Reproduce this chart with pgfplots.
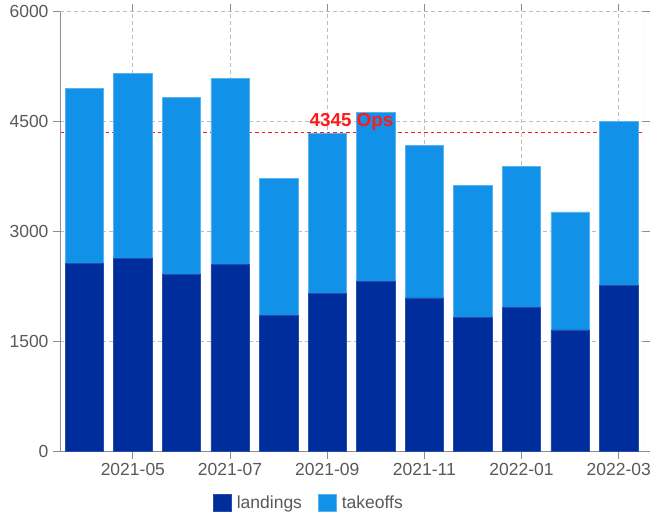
\documentclass[border=0pt]{standalone}
\usepackage{pgfplots}
\pgfplotsset{compat=1.18}
\usepackage{fontspec}
\setmainfont{Liberation Sans}

\definecolor{landc}{HTML}{002D9C}
\definecolor{takec}{HTML}{1192E8}
\definecolor{gridc}{HTML}{BDBDBD}
\definecolor{axisc}{HTML}{8D8D8D}
\definecolor{labc}{HTML}{595959}
\definecolor{refc}{HTML}{FF1A1A}

% monthly operations, Apr 2021 .. Mar 2022 (index 0..11)
\pgfplotstableread{
idx landings takeoffs
0   2569 2372
1   2633 2520
2   2416 2410
3   2547 2540
4   1854 1866
5   2157 2176
6   2320 2300
7   2094 2076
8   1831 1795
9   1963 1921
10  1659 1605
11  2262 2234
}\ops

\begin{document}
\begin{tikzpicture}
\useasboundingbox (0,0) rectangle (652bp,518bp);
\begin{axis}[
  at={(60bp,66.3bp)}, anchor=south west,
  scale only axis,
  width=583bp, height=440.7bp,
  ybar stacked,
  bar width=0.79,
  xmin=-0.5, xmax=11.5,
  ymin=0, ymax=6000,
  xtick={1,3,5,7,9,11},
  xticklabels={2021-05,2021-07,2021-09,2021-11,2022-01,2022-03},
  ytick={0,1500,3000,4500,6000},
  /pgf/number format/assume math mode=true,
  scaled y ticks=false,
  yticklabel style={/pgf/number format/fixed,/pgf/number format/1000 sep={}},
  tick label style={font=\fontsize{17.5bp}{20bp}\selectfont, text=labc},
  xticklabel style={yshift=-1bp},
  yticklabel style={xshift=-1bp},
  tick align=outside,
  major tick length=7bp,
  tick style={axisc, line width=0.9bp},
  xmajorgrids, ymajorgrids,
  major grid style={gridc, dash pattern=on 4bp off 3bp, line width=1bp},
  axis line style={draw=none},
  legend style={
    at={(rel axis cs:0.257,-0.1164)}, anchor=west,
    draw=none, fill=none,
    font=\fontsize{17.5bp}{20bp}\selectfont,
    text=labc,
    legend columns=-1,
    /tikz/column 1/.style={column sep=5.5bp},
    /tikz/column 2/.style={column sep=16bp},
    /tikz/column 3/.style={column sep=5.5bp},
    nodes={inner xsep=0bp},
  },
  legend image code/.code={
    \fill[#1] (0bp,-8.8bp) rectangle (17.7bp,8.8bp);
  },
  after end axis/.code={
    \node[anchor=base, text=refc, font=\bfseries\fontsize{18.8bp}{20bp}\selectfont,
      inner sep=0pt, yshift=6.3bp] at (refpt) {4345 Ops};
  },
]
% dashed frame on top and right
\draw[gridc, dash pattern=on 4bp off 3bp, line width=1bp]
  (rel axis cs:0,1) -- (rel axis cs:1,1) -- (rel axis cs:1,0);

\addplot[fill=landc, draw=landc!85!white, line width=0.6bp]
  table[x=idx, y=landings] {\ops};
\addplot[fill=takec, draw=takec!70!white, line width=0.6bp]
  table[x=idx, y=takeoffs] {\ops};
\legend{landings, takeoffs}

% solid left and bottom axis lines
\draw[axisc, line width=1.2bp] (rel axis cs:0,1) -- (rel axis cs:0,0) -- (rel axis cs:1,0);

% average reference line
\draw[refc, dash pattern=on 3.5bp off 3bp, line width=1.3bp]
  (axis cs:-0.5,4345) -- (axis cs:11.5,4345);
\coordinate (refpt) at ({rel axis cs:0.5,0} |- {axis cs:0,4345});
\end{axis}
\end{tikzpicture}
\end{document}
